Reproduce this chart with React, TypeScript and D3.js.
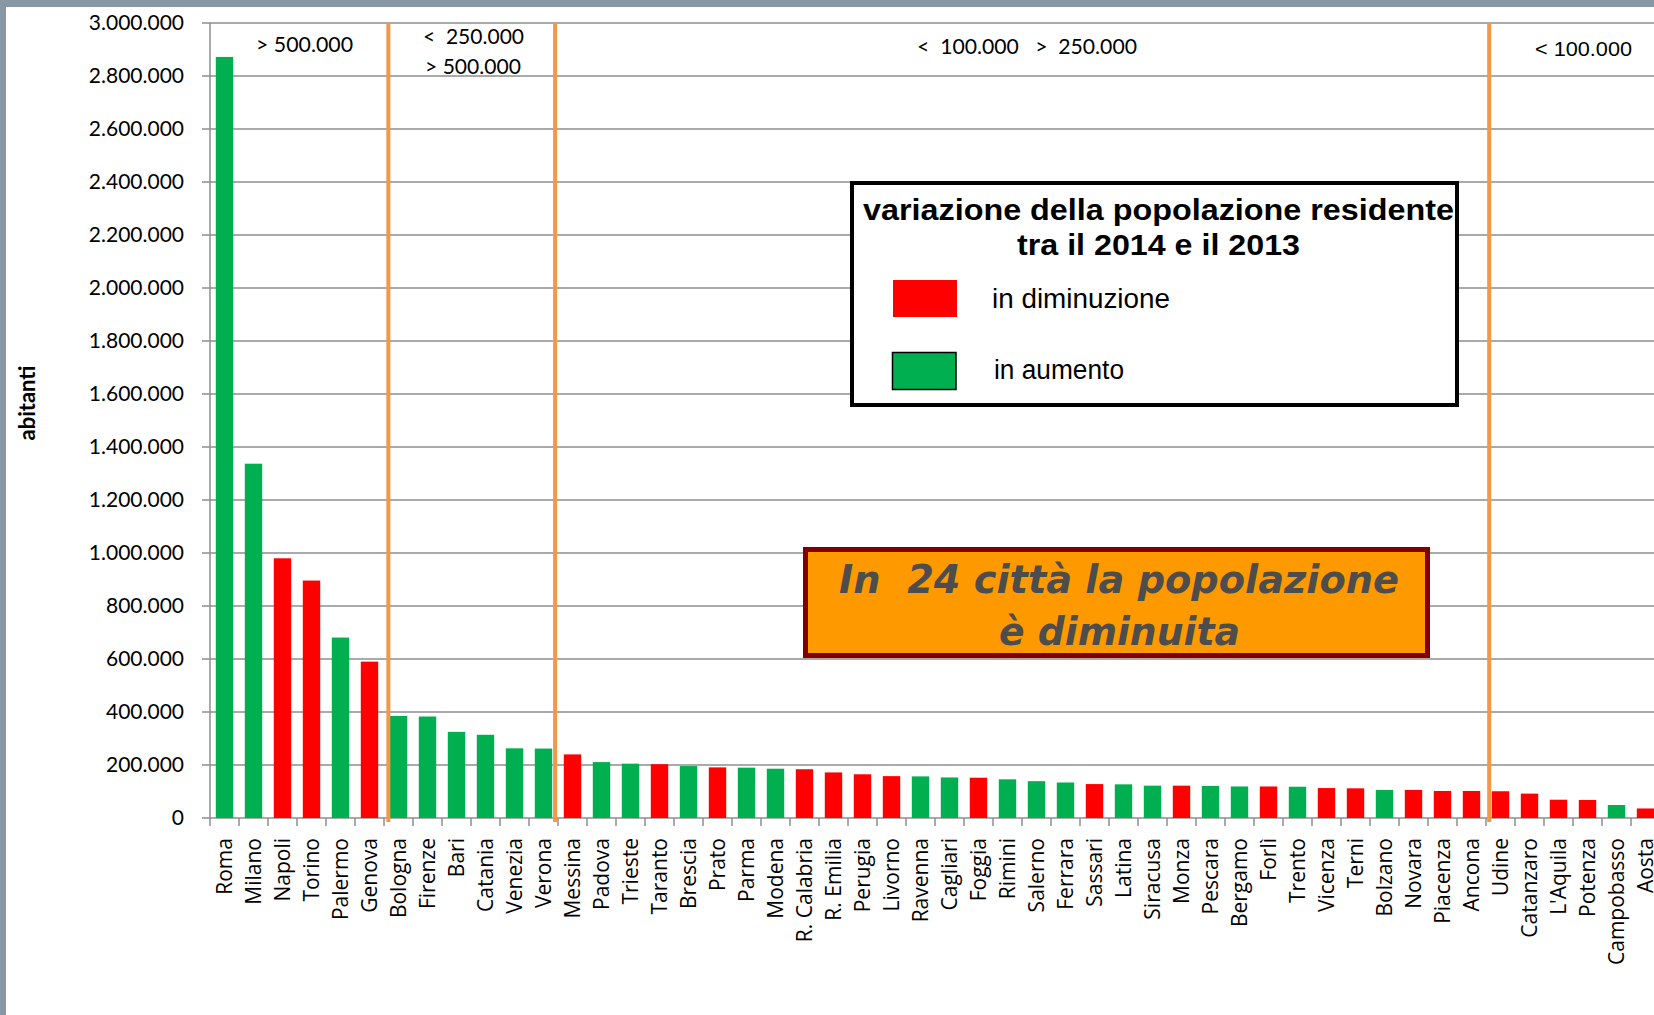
import React from "react";
import * as d3 from "d3";

const categories = [
  "Roma", "Milano", "Napoli", "Torino", "Palermo", "Genova", "Bologna", "Firenze", "Bari", "Catania",
  "Venezia", "Verona", "Messina", "Padova", "Trieste", "Taranto", "Brescia", "Prato", "Parma", "Modena",
  "R. Calabria", "R. Emilia", "Perugia", "Livorno", "Ravenna", "Cagliari", "Foggia", "Rimini", "Salerno", "Ferrara",
  "Sassari", "Latina", "Siracusa", "Monza", "Pescara", "Bergamo", "Forlì", "Trento", "Vicenza", "Terni",
  "Bolzano", "Novara", "Piacenza", "Ancona", "Udine", "Catanzaro", "L'Aquila", "Potenza", "Campobasso", "Aosta",
];

const abitanti = [
  2872000, 1337000, 980000, 896000, 681000, 590000, 385000, 383000, 325000, 314000,
  263000, 262000, 240000, 211000, 205000, 203000, 196000, 191000, 190000, 186000,
  184000, 172000, 165000, 158000, 157000, 153000, 152000, 146000, 139000, 134000,
  128000, 127000, 122000, 122000, 121000, 119000, 119000, 118000, 113000, 112000,
  106000, 106000, 102000, 102000, 101000, 92000, 69000, 68000, 49000, 36000,
];

// "aumento" = increase (green), "diminuzione" = decrease (red)
const variazione = [
  "aumento", "aumento", "diminuzione", "diminuzione", "aumento", "diminuzione", "aumento", "aumento", "aumento", "aumento",
  "aumento", "aumento", "diminuzione", "aumento", "aumento", "diminuzione", "aumento", "diminuzione", "aumento", "aumento",
  "diminuzione", "diminuzione", "diminuzione", "diminuzione", "aumento", "aumento", "diminuzione", "aumento", "aumento", "aumento",
  "diminuzione", "aumento", "aumento", "diminuzione", "aumento", "aumento", "diminuzione", "aumento", "diminuzione", "diminuzione",
  "aumento", "diminuzione", "diminuzione", "diminuzione", "diminuzione", "diminuzione", "diminuzione", "diminuzione", "aumento", "diminuzione",
];

const yTicks = [0, 200000, 400000, 600000, 800000, 1000000, 1200000, 1400000, 1600000, 1800000, 2000000, 2200000, 2400000, 2600000, 2800000, 3000000];

// class dividers, in category-index units
const dividers = [6.15, 11.9, 44.11];

const W = 1654;
const H = 1015;
const X0 = 210;
const X1 = 1660;
const Y0 = 818;
const Y1 = 23;

const colorOf: Record<string, string> = { aumento: "#00B050", diminuzione: "#FF0000" };

const itLocale = d3.formatLocale({ decimal: ",", thousands: ".", grouping: [3], currency: ["", "€"] });
const fmt = itLocale.format(",d");

export default function App() {
  const x = d3.scaleBand<string>().domain(categories).range([X0, X1]).paddingInner(0.4).paddingOuter(0.2);
  const idx = d3.scaleLinear().domain([0, categories.length]).range([X0, X1]);
  const y = d3.scaleLinear().domain([0, 3000000]).range([Y0, Y1]);
  const data = categories.map((c, i) => ({ c, v: abitanti[i], t: variazione[i] }));
  const grid = "#8e8e8e";
  const calibri = "Lato, Carlito, sans-serif";
  const arial = "'Liberation Sans', Arial, sans-serif";

  return (
    <svg width={W} height={H} style={{ position: "absolute", left: 0, top: 0, background: "#fff" }}>
      <rect x={0} y={0} width={W} height={H} fill="#fff" />
      {/* frame */}
      <rect x={0} y={0} width={W} height={7} fill="#8797a4" />
      <rect x={0} y={0} width={6} height={H} fill="#8797a4" />

      {/* gridlines + y ticks */}
      {yTicks.map((t) => (
        <g key={t}>
          <line x1={X0 - 8} x2={W} y1={y(t)} y2={y(t)} stroke={grid} strokeWidth={1.5} />
          <text
            x={184}
            y={y(t)}
            dy="0.35em"
            textAnchor="end"
            fontFamily={calibri}
            fontSize={21}
            fill="#000"
          >
            {fmt(t)}
          </text>
        </g>
      ))}

      {/* y axis */}
      <line x1={X0} x2={X0} y1={Y1} y2={Y0} stroke={grid} strokeWidth={1.5} />
      {/* x ticks */}
      {d3.range(categories.length + 1).map((i) => (
        <line key={i} x1={idx(i)} x2={idx(i)} y1={Y0} y2={Y0 + 8} stroke={grid} strokeWidth={1.5} />
      ))}

      {/* bars */}
      {data.map((d) => (
        <rect
          key={d.c}
          x={x(d.c)}
          y={y(d.v)}
          width={x.bandwidth()}
          height={Y0 - y(d.v)}
          fill={colorOf[d.t]}
        />
      ))}

      {/* category labels */}
      {data.map((d) => (
        <text
          key={d.c}
          transform={`translate(${(x(d.c) as number) + x.bandwidth() / 2},838) rotate(-90)`}
          dy="0.36em"
          textAnchor="end"
          fontFamily="'Open Sans', sans-serif"
          fontSize={21}
          fill="#000"
        >
          {d.c}
        </text>
      ))}

      {/* dividers */}
      {dividers.map((p) => (
        <line key={p} x1={idx(p)} x2={idx(p)} y1={Y1} y2={Y0 + 4} stroke="#F79646" strokeWidth={4} />
      ))}

      {/* y axis title */}
      <text
        transform="translate(27.5,403) rotate(-90)"
        dy="0.35em"
        textAnchor="middle"
        fontFamily={calibri}
        fontWeight="bold"
        fontSize={22}
        fill="#000"
      >
        abitanti
      </text>

      {/* class labels */}
      <g fontFamily={calibri} fontSize={21} fill="#000">
        <text xmlSpace="preserve" x={304.5} y={52} textAnchor="middle" textLength={97} lengthAdjust="spacingAndGlyphs">{"> 500.000"}</text>
        <text xmlSpace="preserve" x={473.5} y={44} textAnchor="middle" textLength={101} lengthAdjust="spacingAndGlyphs">{"<  250.000"}</text>
        <text xmlSpace="preserve" x={473} y={74} textAnchor="middle" textLength={96} lengthAdjust="spacingAndGlyphs">{"> 500.000"}</text>
        <text xmlSpace="preserve" x={1027} y={54} textAnchor="middle" textLength={220} lengthAdjust="spacingAndGlyphs">{"<  100.000   >  250.000"}</text>
      </g>
      <text xmlSpace="preserve" x={1583.5} y={56} textAnchor="middle" fontFamily={arial} fontSize={21} textLength={97} lengthAdjust="spacingAndGlyphs">
        {"< 100.000"}
      </text>

      {/* legend */}
      <rect x={852} y={183} width={605} height={222} fill="#fff" stroke="#000" strokeWidth={4} />
      <text x={1158.5} y={220} textAnchor="middle" fontFamily={arial} fontWeight="bold" fontSize={30} textLength={591} lengthAdjust="spacingAndGlyphs">
        variazione della popolazione residente
      </text>
      <text x={1158.5} y={255} textAnchor="middle" fontFamily={arial} fontWeight="bold" fontSize={30} textLength={283} lengthAdjust="spacingAndGlyphs">
        tra il 2014 e il 2013
      </text>
      <rect x={893} y={280} width={64} height={37} fill={colorOf.diminuzione} />
      <rect x={892.5} y={352.5} width={63.5} height={37} fill={colorOf.aumento} stroke="#000" strokeWidth={1.5} />
      <text x={992} y={308} fontFamily={arial} fontSize={27} textLength={178} lengthAdjust="spacingAndGlyphs">in diminuzione</text>
      <text x={994} y={379} fontFamily={arial} fontSize={27} textLength={130} lengthAdjust="spacingAndGlyphs">in aumento</text>

      {/* annotation */}
      <rect x={805.5} y={549.5} width={622} height={106} fill="#FF9900" stroke="#800000" strokeWidth={5} />
      <g fontFamily="'DejaVu Sans', Verdana, sans-serif" fontWeight="bold" fontStyle="italic" fontSize={39} fill="#4D4D4D" textAnchor="middle">
        <text xmlSpace="preserve" x={1119} y={593} textLength={560} lengthAdjust="spacingAndGlyphs">{"In  24 città la popolazione"}</text>
        <text x={1119.5} y={645} textLength={241} lengthAdjust="spacingAndGlyphs">è diminuita</text>
      </g>
    </svg>
  );
}
